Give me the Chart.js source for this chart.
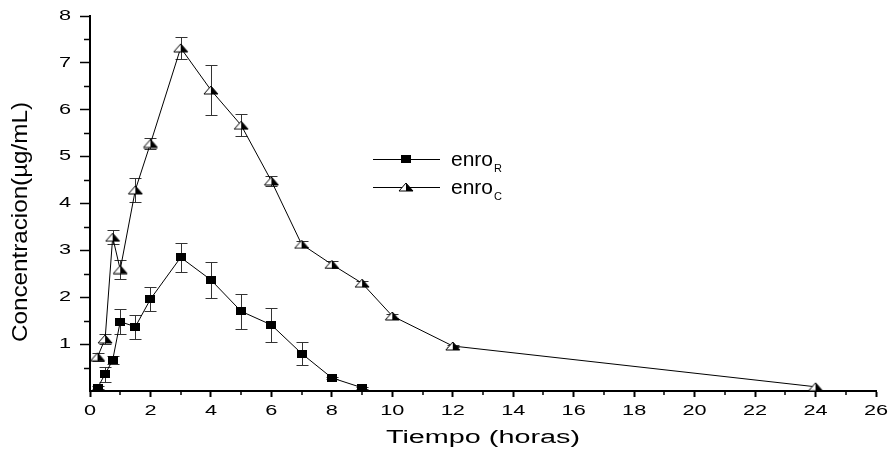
<!DOCTYPE html>
<html><head><meta charset="utf-8">
<script src="https://cdn.jsdelivr.net/npm/chart.js@4.4.0/dist/chart.umd.min.js"></script>
<style>html,body{margin:0;padding:0;background:#fff}</style>
</head><body>
<canvas id="c" width="893" height="449"></canvas>
<script>
// ---- data ----
const timeR = [0.25, 0.5, 0.75, 1, 1.5, 2, 3, 4, 5, 6, 7, 8, 9];
const concR = [0.07, 0.36, 0.66, 1.48, 1.37, 1.96, 2.85, 2.37, 1.70, 1.41, 0.80, 0.28, 0.07];
const errR  = [0.03, 0.16, 0.09, 0.27, 0.26, 0.25, 0.31, 0.38, 0.37, 0.36, 0.24, 0.02, 0.02];
const timeC = [0.25, 0.5, 0.75, 1, 1.5, 2, 3, 4, 5, 6, 7, 8, 9, 10, 12, 24];
const concC = [0.73, 1.11, 3.28, 2.59, 4.29, 5.28, 7.32, 6.42, 5.67, 4.48, 3.13, 2.70, 2.30, 1.60, 0.96, 0.09];
const errC  = [0.09, 0.10, 0.15, 0.20, 0.26, 0.11, 0.23, 0.53, 0.24, 0.10, 0.06, 0.08, 0.05, 0.05, 0.03, 0.00];
const seriesNames = ['enro', 'enro'];
const seriesSubs = ['R', 'C'];
const xTickValues = [0, 2, 4, 6, 8, 10, 12, 14, 16, 18, 20, 22, 24, 26];
const xTickLabels = ['0', '2', '4', '6', '8', '10', '12', '14', '16', '18', '20', '22', '24', '26'];
const yTickValues = [0, 1, 2, 3, 4, 5, 6, 7, 8];
const yTickLabels = ['', '1', '2', '3', '4', '5', '6', '7', '8'];
const xMinor = [1, 3, 5, 7, 9, 11, 13, 15, 17, 19, 21, 23, 25];
const yMinor = [0.5, 1.5, 2.5, 3.5, 4.5, 5.5, 6.5, 7.5];
const xTitle = 'Tiempo (horas)';
const yTitle = 'Concentracion(\u00b5g/mL)';

// ---- marker images ----
function makeSquare() {
  const c = document.createElement('canvas'); c.width = 10; c.height = 8;
  const g = c.getContext('2d'); g.fillStyle = '#000'; g.fillRect(0, 0, 10, 8); return c;
}
function makeTri() {
  const c = document.createElement('canvas'); c.width = 16; c.height = 10;
  const g = c.getContext('2d');
  g.beginPath(); g.moveTo(1, 9); g.lineTo(8, 1); g.lineTo(8, 9); g.closePath(); g.fillStyle = '#fff'; g.fill();
  g.beginPath(); g.moveTo(8, 1); g.lineTo(15, 9); g.lineTo(8, 9); g.closePath(); g.fillStyle = '#000'; g.fill();
  g.beginPath(); g.moveTo(1, 9); g.lineTo(8, 1); g.lineTo(15, 9); g.closePath();
  g.strokeStyle = '#000'; g.lineWidth = 1; g.stroke();
  return c;
}
const sqImg = makeSquare();
const triImg = makeTri();

const FONT = '"Liberation Sans", Arial, sans-serif';
function stretchText(ctx, text, x, y, sx, sy, align, baseline, font) {
  ctx.save(); ctx.translate(x, y); ctx.scale(sx, sy);
  ctx.font = font; ctx.textAlign = align; ctx.textBaseline = baseline; ctx.fillStyle = '#000';
  ctx.fillText(text, 0, 0); ctx.restore();
}

const errorBars = {
  id: 'errorBars',
  beforeDatasetsDraw(chart) {
    const { ctx, scales: { x, y } } = chart;
    ctx.save(); ctx.strokeStyle = '#333'; ctx.lineWidth = 1;
    [[timeR, concR, errR], [timeC, concC, errC]].forEach(([t, v, e]) => {
      t.forEach((ti, i) => {
        if (!e[i]) return;
        const px = Math.round(x.getPixelForValue(ti)) + 0.5;
        const top = Math.round(y.getPixelForValue(v[i] + e[i])) + 0.5;
        const bot = Math.round(y.getPixelForValue(v[i] - e[i])) + 0.5;
        ctx.beginPath();
        ctx.moveTo(px, top); ctx.lineTo(px, bot);
        ctx.moveTo(px - 6, top); ctx.lineTo(px + 6, top);
        ctx.moveTo(px - 6, bot); ctx.lineTo(px + 6, bot);
        ctx.stroke();
      });
    });
    ctx.restore();
  }
};

const decorations = {
  id: 'decorations',
  afterDraw(chart) {
    const { ctx, scales: { x, y }, chartArea } = chart;
    ctx.save();
    // minor ticks
    ctx.strokeStyle = '#000'; ctx.lineWidth = 1.5;
    ctx.beginPath();
    xMinor.forEach(v => { const px = Math.round(x.getPixelForValue(v)); ctx.moveTo(px, chartArea.bottom); ctx.lineTo(px, chartArea.bottom + 4); });
    yMinor.forEach(v => { const py = Math.round(y.getPixelForValue(v)) + 0.5; ctx.moveTo(chartArea.left, py); ctx.lineTo(chartArea.left - 6, py); });
    ctx.stroke();
    // tick labels
    xTickValues.forEach((v, i) => stretchText(ctx, xTickLabels[i], x.getPixelForValue(v), 411, 1.55, 1, 'center', 'middle', '14px ' + FONT));
    yTickValues.forEach((v, i) => { if (yTickLabels[i]) stretchText(ctx, yTickLabels[i], 71, y.getPixelForValue(v), 1.55, 1, 'right', 'middle', '14px ' + FONT); });
    // axis titles
    stretchText(ctx, xTitle, (chartArea.left + chartArea.right) / 2, 443, 1.6, 1, 'center', 'alphabetic', '18px ' + FONT);
    ctx.save(); ctx.translate(21, 222); ctx.rotate(-Math.PI / 2); ctx.scale(1.1, 1);
    ctx.font = '22px ' + FONT; ctx.textAlign = 'center'; ctx.textBaseline = 'middle'; ctx.fillStyle = '#000';
    ctx.fillText(yTitle, 0, 0); ctx.restore();
    // legend
    const rows = [[159, sqImg], [187, triImg]];
    rows.forEach(([ly, img], i) => {
      ctx.strokeStyle = '#000'; ctx.lineWidth = 1;
      ctx.beginPath(); ctx.moveTo(373, ly + 0.5); ctx.lineTo(440, ly + 0.5); ctx.stroke();
      ctx.drawImage(img, Math.round(406 - img.width / 2), Math.round(ly - img.height / 2));
      ctx.fillStyle = '#000'; ctx.textAlign = 'left'; ctx.textBaseline = 'alphabetic';
      ctx.font = '21px ' + FONT;
      ctx.fillText(seriesNames[i], 451, ly + 7);
      const w = ctx.measureText(seriesNames[i]).width;
      ctx.font = '11px ' + FONT;
      ctx.fillText(seriesSubs[i], 451 + w + 1, ly + 13);
    });
    ctx.restore();
  }
};

new Chart(document.getElementById('c'), {
  type: 'line',
  data: {
    datasets: [
      { label: 'enroR', data: timeR.map((t, i) => ({ x: t, y: concR[i] })), borderColor: '#000', borderWidth: 1,
        pointStyle: sqImg, pointRadius: 5, tension: 0, clip: false, fill: false },
      { label: 'enroC', data: timeC.map((t, i) => ({ x: t, y: concC[i] })), borderColor: '#000', borderWidth: 1,
        pointStyle: triImg, pointRadius: 5, tension: 0, clip: false, fill: false }
    ]
  },
  options: {
    responsive: false, animation: false, devicePixelRatio: 1,
    layout: { padding: { left: 0, top: 16, right: 17, bottom: 0 } },
    plugins: { legend: { display: false }, tooltip: { enabled: false } },
    scales: {
      x: {
        type: 'linear', min: 0, max: 26,
        afterBuildTicks: s => { s.ticks = xTickValues.map(v => ({ value: v })); },
        ticks: { display: false },
        grid: { drawOnChartArea: false, drawTicks: true, tickLength: 6, tickWidth: 2, tickColor: '#000' },
        border: { display: true, color: '#000', width: 2 },
        afterFit: s => { s.height = 58; }
      },
      y: {
        type: 'linear', min: 0, max: 8,
        afterBuildTicks: s => { s.ticks = yTickValues.map(v => ({ value: v })); },
        ticks: { display: false },
        grid: { drawOnChartArea: false, drawTicks: true, tickLength: 10, tickWidth: 1.5,
          tickColor: c => (c.tick && c.tick.value === 0) ? 'rgba(0,0,0,0)' : '#000' },
        border: { display: true, color: '#000', width: 2 },
        afterFit: s => { s.width = 90; }
      }
    }
  },
  plugins: [errorBars, decorations]
});
</script>
</body></html>
